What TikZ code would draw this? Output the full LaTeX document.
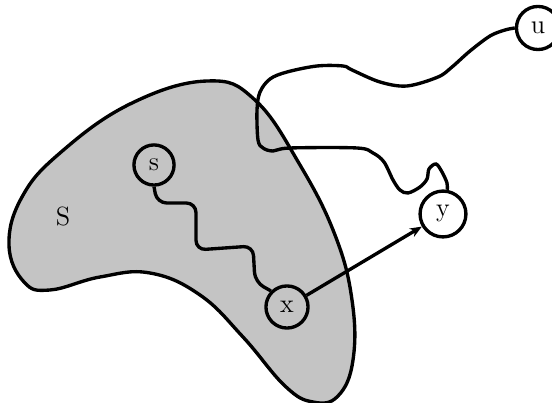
\documentclass[tikz,border=0pt]{standalone}
\usepackage{tikz}
\usetikzlibrary{arrows.meta}

\definecolor{setgray}{gray}{0.77}

\begin{document}
\begin{tikzpicture}[
    x=0.4167pt, y=-0.4167pt,
    line width=1.4pt,
    vertex/.style={draw, circle, font=\fontsize{11}{13}\selectfont, inner sep=3.6pt},
    walk/.style={rounded corners=4pt},
    arr/.style={-{Stealth[length=5pt, width=4pt]}},
]
\useasboundingbox (0,0) rectangle (552,403);

% The set S
\draw[fill=setgray] plot[smooth cycle, tension=0.7] coordinates {
    (207,81) (255,100) (300,165) (335,235) (352,300) (353,360) (338,396)
    (313,402) (285,386) (243,337) (200,295) (150,273) (100,277) (50,290)
    (24,282) (9,245) (22,197) (60,153) (130,104)};
\node[font=\fontsize{11}{13}\selectfont] (setS) at (63,216) {S};

% Vertices
\node[vertex] (s) at (154,165) {s};
\node[vertex] (x) at (287,307) {x};
\node[vertex] (y) at (443,214) {y};
\node[vertex] (u) at (538,28) {u};

% Shortest path s to x inside S
\draw[walk] (s.south) -- (157,203) -- (196,203) -- (196,250) -- (253,246)
    -- (255,282) -- (x.north west);

% Path from u to y
\draw plot[smooth, tension=0.55] coordinates {
    (u.west) (505,30) (490,36) (470,51) (452,67) (438,77) (407,86) (380,82)
    (352,70) (343,66) (317,66) (287,72) (270,79) (260,92) (257,110) (258,140)
    (263,148) (273,151) (290,148) (357,148) (373,153) (384,162) (393,180)
    (400,190) (408,193) (420,187) (427,179) (429,169) (436,164) (442,172)
    (447,183) (y.80)};

% Edge x to y
\draw[arr] (x) -- (y);

\end{tikzpicture}
\end{document}
